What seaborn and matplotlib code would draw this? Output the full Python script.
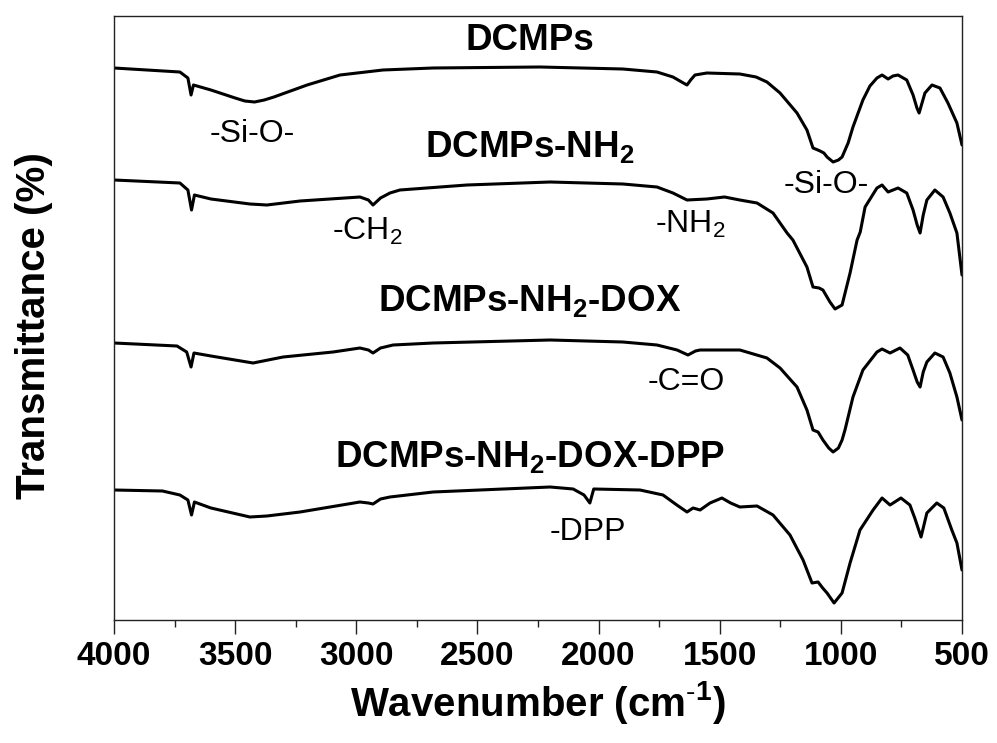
import numpy as np
import pandas as pd
import matplotlib
matplotlib.use('Agg')
import matplotlib.pyplot as plt
from matplotlib.ticker import MultipleLocator
import seaborn as sns

# FTIR spectra, values (transmittance in arbitrary units)
wn_dcmps = [4000, 3728, 3695, 3682, 3672, 3600, 3500, 3460, 3420, 3380, 3340, 3203, 3067, 2890,
            2683, 2242, 1900, 1759, 1693, 1650, 1635, 1620, 1602, 1553, 1417, 1350, 1305, 1251,
            1181, 1140, 1115, 1095, 1086, 1070, 1057, 1032, 1010, 995, 970, 950, 909, 880, 851,
            830, 805, 785, 764, 728, 702, 686, 677, 665, 653, 624, 591, 558, 521, 500]
t_dcmps = [552, 548, 542, 525, 535, 530, 522, 519, 518, 520, 523, 535, 545, 550,
           552, 553, 551, 548, 543, 537, 535, 540, 545, 547, 546, 543, 538, 527,
           507, 490, 472, 470, 469, 467, 463, 458, 460, 463, 477, 493, 520, 534, 542,
           545, 541, 544, 545, 540, 525, 512, 507, 517, 527, 535, 532, 517, 497, 475]

wn_nh2 = [4000, 3728, 3695, 3680, 3668, 3600, 3439, 3369, 3232, 2985, 2950, 2931, 2900, 2861,
          2820, 2543, 2200, 1900, 1759, 1693, 1635, 1553, 1480, 1417, 1346, 1280, 1222, 1198,
          1140, 1115, 1090, 1074, 1045, 1024, 995, 962, 933, 920, 900, 851, 830, 805, 764,
          728, 702, 685, 673, 660, 645, 612, 578, 550, 521, 500]
t_nh2 = [440, 437, 430, 410, 425, 421, 416, 415, 419, 423, 420, 415, 422, 427,
         430, 435, 438, 436, 433, 427, 420, 421, 423, 420, 417, 407, 387, 380,
         353, 333, 332, 330, 318, 311, 315, 347, 380, 388, 413, 432, 435, 428, 432,
         427, 410, 395, 387, 405, 420, 430, 423, 407, 387, 345]

wn_dox = [4000, 3740, 3700, 3682, 3670, 3600, 3426, 3302, 3096, 2985, 2950, 2931, 2900, 2848,
          2683, 2200, 1900, 1759, 1676, 1631, 1600, 1581, 1417, 1305, 1251, 1181, 1140, 1115,
          1094, 1074, 1050, 1032, 1010, 995, 983, 950, 909, 851, 830, 797, 756, 724, 702,
          685, 673, 660, 645, 612, 578, 550, 521, 500]
t_dox = [277, 274, 268, 253, 267, 264, 257, 263, 268, 272, 270, 267, 272, 275,
         277, 280, 278, 275, 270, 265, 269, 270, 270, 262, 252, 233, 210, 190,
         188, 180, 172, 168, 172, 180, 190, 223, 250, 268, 271, 267, 272, 265, 250,
         238, 233, 248, 258, 267, 263, 247, 223, 200]

wn_dpp = [4000, 3800, 3728, 3695, 3680, 3668, 3600, 3439, 3369, 3232, 2985, 2950, 2931, 2900,
          2861, 2683, 2200, 2105, 2060, 2036, 2020, 1829, 1734, 1677, 1635, 1610, 1581, 1540,
          1491, 1455, 1417, 1346, 1280, 1210, 1156, 1119, 1094, 1075, 1057, 1028, 995, 962,
          921, 867, 830, 797, 752, 715, 695, 669, 645, 604, 575, 542, 521, 500]
t_dpp = [130, 129, 125, 120, 105, 118, 112, 103, 104, 108, 118, 117, 116, 121,
         123, 128, 133, 131, 125, 117, 131, 130, 125, 115, 108, 112, 110, 117,
         122, 117, 113, 114, 105, 85, 60, 37, 38, 32, 27, 17, 27, 57,
         90, 110, 122, 115, 122, 115, 102, 83, 107, 117, 112, 90, 77, 50]

samples = ['DCMPs', 'DCMPs-NH2', 'DCMPs-NH2-DOX', 'DCMPs-NH2-DOX-DPP']
x_ticks = [4000, 3500, 3000, 2500, 2000, 1500, 1000, 500]

df = pd.concat([
    pd.DataFrame({'wavenumber': wn_dcmps, 'T': t_dcmps, 'sample': samples[0]}),
    pd.DataFrame({'wavenumber': wn_nh2, 'T': t_nh2, 'sample': samples[1]}),
    pd.DataFrame({'wavenumber': wn_dox, 'T': t_dox, 'sample': samples[2]}),
    pd.DataFrame({'wavenumber': wn_dpp, 'T': t_dpp, 'sample': samples[3]}),
])

sns.set_theme(style='white')
plt.rcParams['font.family'] = ['Liberation Sans', 'DejaVu Sans']
plt.rcParams['mathtext.fontset'] = 'custom'
plt.rcParams['mathtext.rm'] = 'Liberation Sans'
plt.rcParams['mathtext.bf'] = 'Liberation Sans:bold'
plt.rcParams['text.color'] = 'black'
plt.rcParams['axes.labelcolor'] = 'black'
plt.rcParams['xtick.color'] = 'black'

fig = plt.figure(figsize=(9.97, 7.43), dpi=100)
ax = fig.add_axes([114 / 997, 1 - 620 / 743, 848 / 997, 604 / 743])

sns.lineplot(data=df, x='wavenumber', y='T', hue='sample', palette=['black'] * 4,
             estimator=None, legend=False, lw=2.2, ax=ax)

ax.set_xlim(4000, 500)
ax.set_ylim(0, 604)
ax.set_xticks(x_ticks)
ax.xaxis.set_minor_locator(MultipleLocator(250))
ax.set_yticks([])
ax.tick_params(axis='x', which='major', direction='out', length=10, width=1.0, pad=5,
               bottom=True, color='#222')
ax.tick_params(axis='x', which='minor', direction='out', length=5, width=1.0,
               bottom=True, color='#222')
for lab in ax.get_xticklabels():
    lab.set_fontweight('bold')
    lab.set_fontsize(24)
for sp in ax.spines.values():
    sp.set_visible(True)
    sp.set_color('#222')
    sp.set_linewidth(1.0)

ax.set_xlabel(r'Wavenumber (cm$^{\mathbf{\text{-}1}}$)', fontsize=29, fontweight='bold',
              labelpad=5)
ax.set_ylabel('Transmittance (%)', fontsize=29, fontweight='bold', va='center')
ax.yaxis.set_label_coords(-0.094, 0.488)

# sample names
title_kw = dict(ha='center', va='baseline', fontsize=26.5, fontweight='bold')
ax.text(2283, 570, 'DCMPs', **title_kw)
ax.text(2283, 462, r'DCMPs-NH$_\mathbf{2}$', **title_kw)
ax.text(2283, 308, r'DCMPs-NH$_\mathbf{2}$-DOX', **title_kw)
ax.text(2283, 152, r'DCMPs-NH$_\mathbf{2}$-DOX-DPP', **title_kw)

# band assignments
ann_kw = dict(ha='center', va='baseline', fontsize=23)
ax.text(3430, 478, '-Si-O-', **ann_kw)
ax.text(2956, 380, r'-CH$_2$', **ann_kw)
ax.text(1623, 387, r'-NH$_2$', **ann_kw)
ax.text(1061, 427, '-Si-O-', **ann_kw)
ax.text(1639, 230, '-C=O', **ann_kw)
ax.text(2044, 80, '-DPP', **ann_kw)

fig.savefig('out.png', dpi=100)
